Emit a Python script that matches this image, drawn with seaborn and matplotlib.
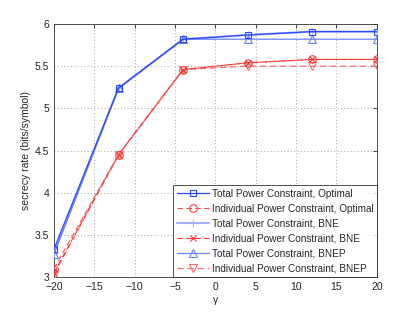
import matplotlib
matplotlib.use("Agg")
import matplotlib.pyplot as plt
import seaborn as sns
import pandas as pd

gamma = [-20, -12, -4, 4, 12, 20]
total_opt = [3.33, 5.24, 5.82, 5.87, 5.91, 5.91]
indiv_opt = [3.10, 4.45, 5.46, 5.54, 5.58, 5.58]
total_bne = [3.29, 5.24, 5.82, 5.87, 5.91, 5.91]
indiv_bne = [3.05, 4.45, 5.46, 5.54, 5.58, 5.58]
total_bnep = [3.27, 5.24, 5.82, 5.82, 5.82, 5.82]
indiv_bnep = [3.03, 4.45, 5.46, 5.50, 5.50, 5.50]

labels = ["Total Power Constraint, Optimal",
          "Individual Power Constraint, Optimal",
          "Total Power Constraint, BNE",
          "Individual Power Constraint, BNE",
          "Total Power Constraint, BNEP",
          "Individual Power Constraint, BNEP"]
series = [total_opt, indiv_opt, total_bne, indiv_bne, total_bnep, indiv_bnep]

dash = (0, (5, 3))
styles = [
    dict(color="#2a48ff", ls="-", marker="s", lw=0.9, ms=4.5, z=6),
    dict(color="#ff4a4a", ls=dash, marker="o", lw=0.8, ms=5.5, z=4),
    dict(color="#a4b2ff", ls="-", marker="+", lw=1.5, ms=6, z=3),
    dict(color="#ff3030", ls=dash, marker="x", lw=0.8, ms=4, z=5),
    dict(color="#6a82ff", ls="-", marker="^", lw=0.9, ms=5.5, z=4),
    dict(color="#ff6a6a", ls=dash, marker="v", lw=0.9, ms=5.5, z=3),
]

sns.set_style("white")
plt.rcParams['font.family'] = ['Liberation Sans', 'DejaVu Sans']
fig = plt.figure(figsize=(4.15, 3.12), dpi=100)
ax = fig.add_axes([0.130, 0.112, 0.778, 0.811])

for lab, vals, st in zip(labels, series, styles):
    df = pd.DataFrame({"gamma": gamma, "rate": vals})
    sns.lineplot(data=df, x="gamma", y="rate", ax=ax, label=lab,
                 color=st["color"], linestyle=st["ls"], marker=st["marker"],
                 linewidth=st["lw"], markersize=st["ms"],
                 markerfacecolor="none", markeredgecolor=st["color"],
                 markeredgewidth=0.8, zorder=st["z"])

ax.set_xlim(-20, 20)
ax.set_ylim(3, 6)
ax.set_xticks(range(-20, 21, 5))
ax.set_xticklabels(["\u221220", "\u221215", "\u221210", "\u22125", "0", "5", "10", "15", "20"])
ax.set_yticks([3, 3.5, 4, 4.5, 5, 5.5, 6])
ax.set_yticklabels(["3", "3.5", "4", "4.5", "5", "5.5", "6"])
ax.tick_params(direction="in", length=3, labelsize=7.5, width=0.6, top=True, right=True,
               colors="#222222")
ax.grid(True, linestyle=(0, (1, 3)), color="#888888", linewidth=0.6)
for s in ax.spines.values():
    s.set_color("#333333")
    s.set_linewidth(0.6)
ax.set_xlabel("\u03b3", fontsize=7.5, labelpad=2)
ax.set_ylabel("secrecy rate (bits/symbol)", fontsize=7.5, labelpad=3)

leg = ax.legend(loc="lower right", fontsize=7.2, borderaxespad=0, frameon=True,
                fancybox=False, handlelength=3.2, labelspacing=0.5,
                borderpad=0.35, handletextpad=0.3)
leg.get_frame().set_edgecolor("#222222")
leg.get_frame().set_linewidth(0.7)
leg.set_zorder(10)

fig.savefig("out.png", dpi=100)
